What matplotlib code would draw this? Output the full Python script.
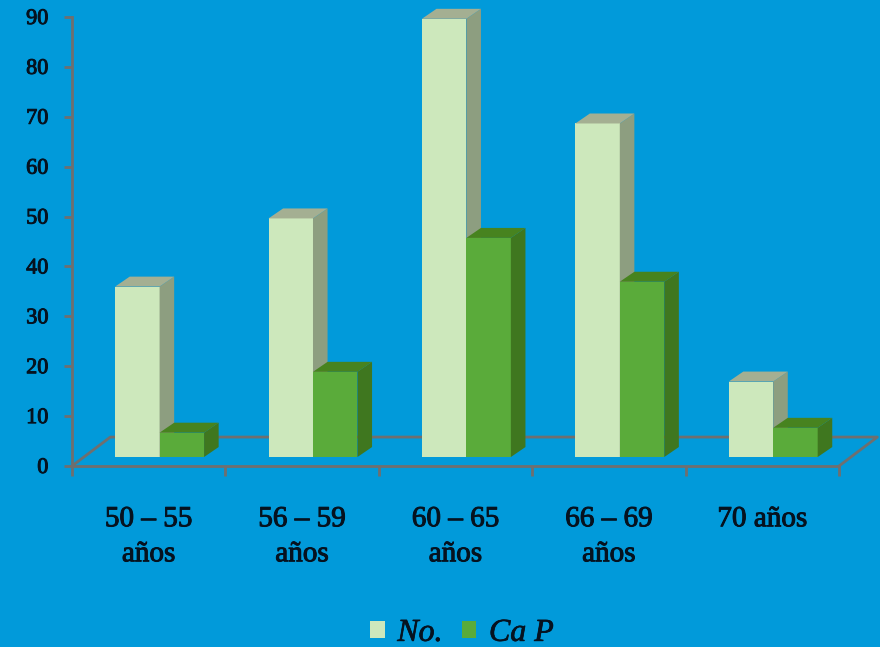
import matplotlib
matplotlib.use('Agg')
import matplotlib.pyplot as plt
import matplotlib.patheffects as pe
from matplotlib.patches import Patch

categories = ['50 – 55\naños', '56 – 59\naños', '60 – 65\naños', '66 – 69\naños', '70 años']
no_values = [35, 49, 90, 68.5, 15.5]
cap_values = [5, 17.5, 45, 36, 6]
y_ticks = [0, 10, 20, 30, 40, 50, 60, 70, 80, 90]

bg = '#019ADA'
axis_col = '#6F6F6F'
text_col = '#06121F'

# front, side, top shades for each series
light = ('#CDE8BC', '#8D9E80', '#A4AF92')
green = ('#5AAB3A', '#3F771F', '#47831F')

# fake 3d: depth of the bars and of the floor, in data units
bar_w = 0.29
depth_x, depth_y = 0.095, 2.0
floor_x, floor_y = 0.25, 5.8
base_y = 1.8
y_shrink = 0.976


def bar3d(ax, x0, value, colors):
    x1 = x0 + bar_w
    y0 = base_y
    y1 = base_y + value * y_shrink
    ax.fill([x0, x1, x1, x0], [y0, y0, y1, y1], color=colors[0], lw=0, clip_on=False, zorder=3)
    ax.fill([x1, x1 + depth_x, x1 + depth_x, x1], [y0, y0 + depth_y, y1 + depth_y, y1],
            color=colors[1], lw=0, clip_on=False, zorder=3)
    ax.fill([x0, x1, x1 + depth_x, x0 + depth_x], [y1, y1, y1 + depth_y, y1 + depth_y],
            color=colors[2], lw=0, clip_on=False, zorder=3)


fig = plt.figure(figsize=(8.8, 6.47), dpi=100, facecolor=bg)
ax = fig.add_axes([72 / 880, 181 / 647, 767 / 880, 449 / 647], facecolor='none')
ax.set_xlim(0, 5)
ax.set_ylim(0, 90)

# floor outline behind the bars
n = len(categories)
ax.plot([0, floor_x, n + floor_x, n], [0, floor_y, floor_y, 0],
        color=axis_col, lw=2, clip_on=False, zorder=1)

for i in range(n):
    bar3d(ax, i + 0.281, no_values[i], light)
    bar3d(ax, i + 0.281 + bar_w, cap_values[i], green)

for s in ['top', 'right']:
    ax.spines[s].set_visible(False)
for s in ['left', 'bottom']:
    ax.spines[s].set_color(axis_col)
    ax.spines[s].set_linewidth(2)

ax.set_yticks(y_ticks)
ax.tick_params(axis='y', length=6, width=2, color=axis_col, pad=11, labelsize=16,
               labelcolor=text_col, labelfontfamily='Liberation Serif')
ax.set_xticks(range(n + 1))
ax.set_xticklabels([])
ax.tick_params(axis='x', which='major', length=7, width=2, color=axis_col)
ax.set_xticks([i + 0.5 for i in range(n)], minor=True)
ax.set_xticklabels(categories, minor=True, fontsize=21, color=text_col,
                   family='Liberation Serif', linespacing=1.45, va='top')
ax.tick_params(axis='x', which='minor', length=0, pad=29)

# slightly heavier strokes on the serif labels
for t in ax.get_yticklabels() + ax.get_xticklabels(minor=True):
    t.set_path_effects([pe.withStroke(linewidth=0.7, foreground=text_col)])

handles = [Patch(facecolor=light[0], label='No.'), Patch(facecolor=green[0], label='Ca P')]
leg = fig.legend(handles=handles, loc='lower center', bbox_to_anchor=(462 / 880, -0.026), ncol=2,
                 frameon=False, handlelength=0.45, handleheight=0.45, handletextpad=0.4,
                 columnspacing=0.6, borderpad=0,
                 prop={'family': 'Liberation Serif', 'style': 'italic', 'size': 23})
for t in leg.get_texts():
    t.set_color(text_col)
    t.set_path_effects([pe.withStroke(linewidth=0.5, foreground=text_col)])

fig.savefig('out.png', dpi=100, facecolor=bg)
